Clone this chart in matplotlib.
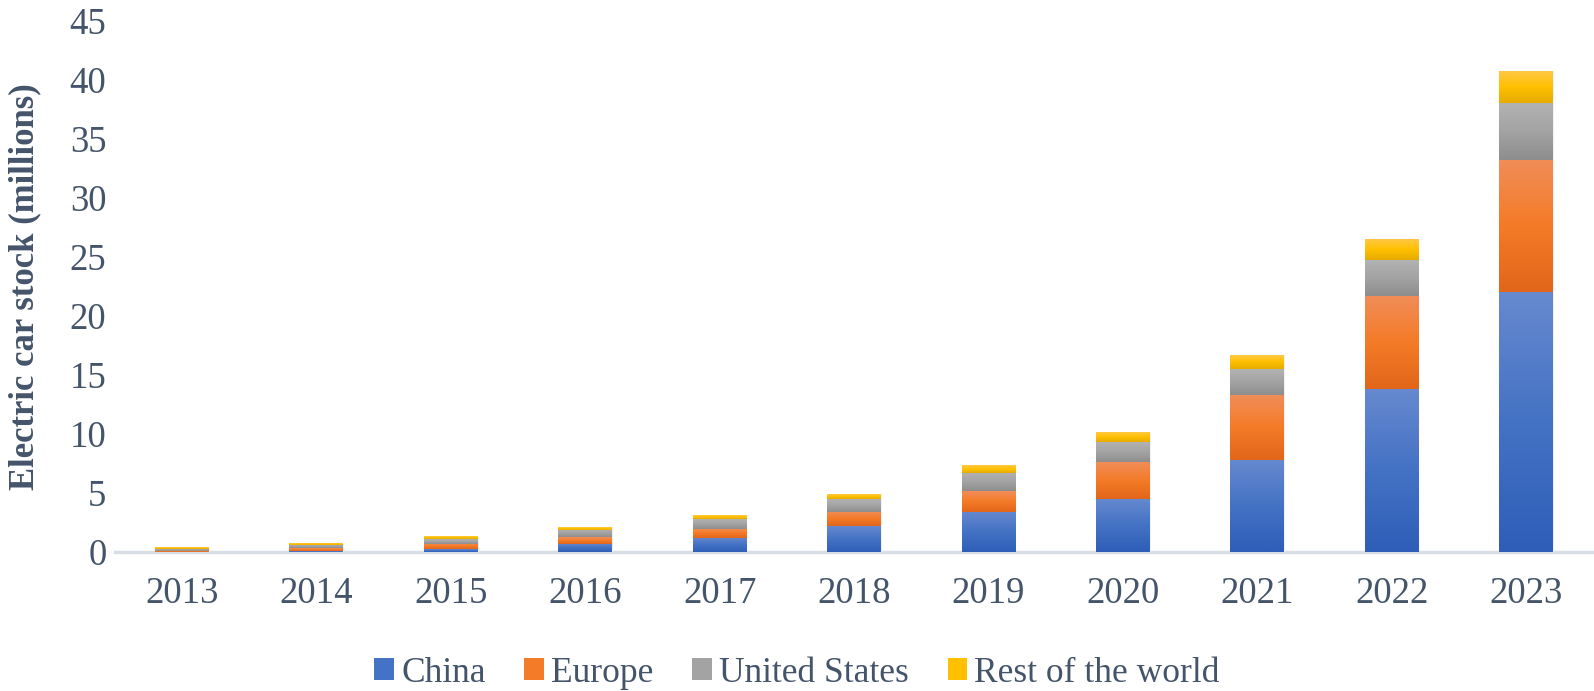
import numpy as np
import matplotlib
matplotlib.use("Agg")
import matplotlib.pyplot as plt
from matplotlib.colors import LinearSegmentedColormap
from matplotlib.patches import Patch

# Data (millions of electric cars)
years = ['2013', '2014', '2015', '2016', '2017', '2018', '2019', '2020', '2021', '2022', '2023']
china = [0.03, 0.08, 0.25, 0.68, 1.2, 2.2, 3.4, 4.5, 7.8, 13.8, 22.0]
europe = [0.09, 0.22, 0.43, 0.59, 0.77, 1.2, 1.77, 3.13, 5.45, 7.9, 11.2]
usa = [0.17, 0.29, 0.42, 0.62, 0.84, 1.1, 1.53, 1.69, 2.2, 3.0, 4.8]
rest = [0.11, 0.1, 0.2, 0.2, 0.28, 0.42, 0.61, 0.82, 1.15, 1.75, 2.7]

series = [('China', china), ('Europe', europe), ('United States', usa), ('Rest of the world', rest)]
# (top, middle, bottom) colours of the gradient fill
grads = {
    'China': ('#6689cf', '#4472c4', '#2e5eb8'),
    'Europe': ('#f18d58', '#f47b27', '#e2661a'),
    'United States': ('#b2b2b2', '#a3a3a3', '#8e8e8e'),
    'Rest of the world': ('#ffc844', '#ffc000', '#e6ab00'),
}
text_color = '#44546a'

plt.rcParams['font.family'] = ['Liberation Serif', 'DejaVu Serif']

fig = plt.figure(figsize=(15.94, 6.91), dpi=100)
ax = fig.add_axes([0.072, 0.2012, 0.9275, 0.7694])

x = np.arange(len(years))
bottom = np.zeros(len(years))
for name, vals in series:
    top, mid, bot = grads[name]
    cmap = LinearSegmentedColormap.from_list(name, [bot, mid, top])
    bars = ax.bar(x, vals, 0.4, bottom=bottom, color=mid, edgecolor='#eef2f8',
                  linewidth=0.8, label=name, zorder=3)
    for b in bars:
        x0, y0 = b.get_x(), b.get_y()
        w, h = b.get_width(), b.get_height()
        grad = np.linspace(0, 1, 64).reshape(-1, 1)
        ax.imshow(grad, extent=[x0, x0 + w, y0, y0 + h], origin='lower',
                  aspect='auto', cmap=cmap, zorder=3.5, interpolation='bilinear')
    bottom += np.array(vals)

ax.set_xlim(-0.5, len(years) - 0.5)
ax.set_ylim(0, 45)
ax.set_yticks(np.arange(0, 46, 5))
ax.set_xticks(x)
ax.set_xticklabels(years)
ax.tick_params(axis='both', length=0, labelsize=26.5, colors=text_color)
ax.tick_params(axis='x', pad=18)
ax.tick_params(axis='y', pad=6)

for s in ['top', 'right', 'left']:
    ax.spines[s].set_visible(False)
ax.spines['bottom'].set_color('#d9dde4')
ax.spines['bottom'].set_linewidth(2.5)

ax.set_ylabel('Electric car stock (millions)', fontsize=25, fontweight='bold',
              color=text_color)
ax.yaxis.set_label_coords(-0.050, 0.5)

handles = [Patch(facecolor=grads[n][1], edgecolor='none') for n, _ in series]
fig.legend(handles, [n for n, _ in series], loc='center', bbox_to_anchor=(0.5, 0.026),
           ncol=4, frameon=False, fontsize=25.5, labelcolor=text_color,
           handlelength=0.55, handleheight=0.55, handletextpad=0.2, columnspacing=1.1)

plt.savefig('out.png', dpi=100)
